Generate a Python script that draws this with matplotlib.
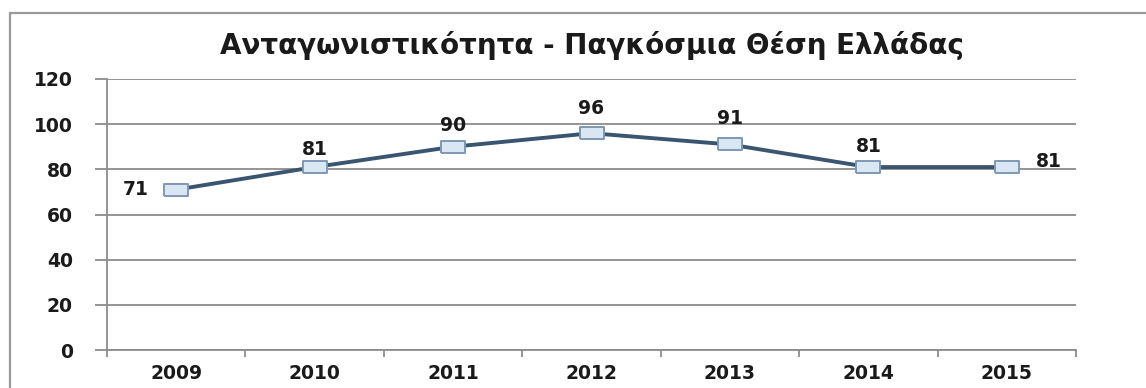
import matplotlib
matplotlib.use("Agg")
import matplotlib.pyplot as plt
from matplotlib.patches import Rectangle

years = ["2009", "2010", "2011", "2012", "2013", "2014", "2015"]
ranks = [71, 81, 90, 96, 91, 81, 81]
y_ticks = [0, 20, 40, 60, 80, 100, 120]
title = "Ανταγωνιστικότητα - Παγκόσμια Θέση Ελλάδας"

plt.rcParams["font.family"] = ["DejaVu Sans"]
plt.rcParams["font.weight"] = "bold"

fig = plt.figure(figsize=(11.46, 3.88), dpi=100)
fig.patch.set_facecolor("white")

# outer chart frame (open on the right and bottom edges)
fig.patches.append(Rectangle((10 / 1146, -0.2), 1.5, 1 - 13 / 388 + 0.2,
                             transform=fig.transFigure, fill=False,
                             edgecolor="#9a9a9a", linewidth=1.6))

ax = fig.add_axes([107 / 1146, 1 - 350 / 388, (1076 - 107) / 1146, (350 - 79) / 388])
x = list(range(len(years)))

# flat rectangular marker
box = [(-1, -0.55), (1, -0.55), (1, 0.55), (-1, 0.55), (-1, -0.55)]
ax.plot(x, ranks, color="#3a556f", linewidth=2.8, zorder=3,
        marker=box, markersize=17, markerfacecolor="#d9e6f4",
        markeredgecolor="#7f98b3", markeredgewidth=1.4)

label_offsets = [(-20, 0), (0, 13), (0, 15), (0, 18), (0, 19), (0, 15), (21, 4)]
label_align = ["right", "center", "center", "center", "center", "center", "left"]
for xi, v, off, ha in zip(x, ranks, label_offsets, label_align):
    ax.annotate(str(v), (xi, v), xytext=off, textcoords="offset points",
                ha=ha, va="center", fontsize=13.5, fontweight="bold",
                color="#1a1a1a")

ax.set_xlim(-0.5, len(years) - 0.5)
ax.set_ylim(0, 120)
ax.set_yticks(y_ticks)
ax.set_yticklabels([str(t) for t in y_ticks], fontsize=13.5, fontweight="bold",
                   color="#1a1a1a")
ax.set_xticks(x)
ax.set_xticklabels(years, fontsize=13.5, fontweight="bold", color="#1a1a1a")
ax.set_xticks([i - 0.5 for i in range(len(years) + 1)], minor=True)

ax.grid(axis="y", color="#8c8c8c", linewidth=1.3)
ax.set_axisbelow(True)
ax.tick_params(axis="y", length=8.6, width=1.3, color="#8c8c8c", pad=16)
ax.tick_params(axis="x", which="major", length=0, pad=10)
ax.tick_params(axis="x", which="minor", length=5, width=1.3, color="#8c8c8c")

for side in ["top", "right"]:
    ax.spines[side].set_visible(False)
for side in ["left", "bottom"]:
    ax.spines[side].set_color("#8c8c8c")
    ax.spines[side].set_linewidth(1.3)

fig.text((107 + 1076) / 2 / 1146, 1 - 46 / 388, title, ha="center", va="center",
         fontsize=20, fontweight="bold", color="#1a1a1a")

fig.savefig("out.png", dpi=100, facecolor="white")
